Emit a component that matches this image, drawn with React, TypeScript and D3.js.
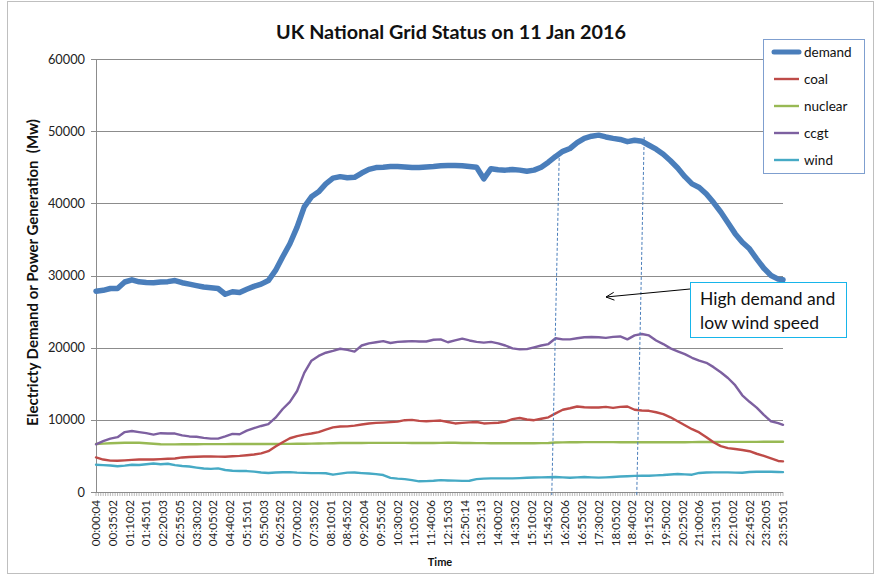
import React, { useEffect, useRef } from 'react';
import * as d3 from 'd3';

// tick labels on the category axis (every 7th 5-minute reading)
const timeLabels = [
  '00:00:04', '00:35:02', '01:10:02', '01:45:01', '02:20:03', '02:55:05', '03:30:02',
  '04:05:02', '04:40:02', '05:15:01', '05:50:03', '06:25:02', '07:00:02', '07:35:02',
  '08:10:01', '08:45:02', '09:20:04', '09:55:02', '10:30:02', '11:05:02', '11:40:06',
  '12:15:03', '12:50:14', '13:25:13', '14:00:02', '14:35:02', '15:10:02', '15:45:02',
  '16:20:06', '16:55:02', '17:30:02', '18:05:02', '18:40:02', '19:15:02', '19:50:02',
  '20:25:02', '21:00:06', '21:35:01', '22:10:02', '22:45:02', '23:20:05', '23:55:01',
];

// readings every 15 min (last one is 23:55), MW
const demand = [
  27830, 27950, 28200, 28200, 29100, 29400, 29120, 29030, 29000, 29100,
  29150, 29300, 29000, 28800, 28600, 28400, 28300, 28200, 27400, 27750,
  27650, 28100, 28500, 28800, 29300, 30700, 32600, 34400, 36700, 39500,
  40900, 41600, 42700, 43500, 43700, 43550, 43600, 44200, 44700, 44950,
  45000, 45100, 45100, 45050, 44950, 44950, 45050, 45100, 45200, 45250,
  45250, 45200, 45100, 45000, 43400, 44800, 44650, 44600, 44700, 44600,
  44450, 44600, 45000, 45700, 46500, 47200, 47600, 48400, 49000, 49300,
  49450, 49200, 49000, 48850, 48550, 48750, 48600, 48050, 47500, 46800,
  45900, 44900, 43700, 42700, 42200, 41300, 40100, 38800, 37300, 35800,
  34600, 33700, 32300, 31000, 30000, 29500, 29400,
];
const coal = [
  4800, 4500, 4350, 4330, 4380, 4450, 4500, 4500, 4510, 4550,
  4600, 4650, 4790, 4850, 4880, 4920, 4930, 4900, 4880, 4950,
  5000, 5100, 5200, 5350, 5650, 6300, 6900, 7450, 7750, 7950,
  8100, 8300, 8650, 8950, 9080, 9100, 9200, 9350, 9500, 9580,
  9620, 9680, 9750, 9950, 10000, 9850, 9800, 9860, 9900, 9700,
  9500, 9580, 9650, 9700, 9500, 9550, 9600, 9750, 10100, 10250,
  10050, 9950, 10150, 10350, 10900, 11400, 11600, 11850, 11750, 11700,
  11700, 11800, 11650, 11800, 11850, 11400, 11300, 11250, 11050, 10800,
  10350, 9800, 9250, 8700, 8250, 7600, 6900, 6350, 6080, 5950,
  5820, 5650, 5300, 5000, 4650, 4300, 4240,
];
const nuclear = [
  6650, 6700, 6750, 6800, 6820, 6840, 6820, 6760, 6680, 6620,
  6600, 6600, 6610, 6620, 6620, 6630, 6630, 6640, 6640, 6650,
  6650, 6650, 6660, 6660, 6660, 6660, 6670, 6670, 6680, 6690,
  6700, 6720, 6740, 6760, 6780, 6790, 6800, 6800, 6810, 6810,
  6810, 6810, 6810, 6810, 6800, 6800, 6800, 6800, 6810, 6820,
  6820, 6800, 6780, 6770, 6770, 6760, 6760, 6750, 6750, 6750,
  6750, 6760, 6770, 6780, 6850, 6880, 6900, 6900, 6910, 6910,
  6910, 6910, 6910, 6900, 6900, 6900, 6900, 6900, 6900, 6900,
  6900, 6900, 6900, 6910, 6920, 6930, 6930, 6940, 6940, 6950,
  6950, 6950, 6950, 6960, 6960, 6960, 6960,
];
const ccgt = [
  6600, 7050, 7400, 7600, 8300, 8450, 8300, 8150, 7950, 8150,
  8100, 8100, 7850, 7700, 7650, 7500, 7400, 7400, 7700, 8050,
  8000, 8500, 8850, 9150, 9400, 10300, 11500, 12500, 14000, 16500,
  18200, 18850, 19300, 19550, 19850, 19700, 19450, 20300, 20600, 20750,
  20900, 20650, 20800, 20850, 20900, 20850, 20850, 21100, 21150, 20750,
  21000, 21250, 21000, 20800, 20700, 20800, 20600, 20300, 19900, 19770,
  19800, 20050, 20300, 20500, 21300, 21150, 21150, 21300, 21450, 21480,
  21450, 21350, 21500, 21550, 21150, 21700, 21900, 21700, 21000, 20500,
  19900, 19500, 19100, 18600, 18200, 17900, 17300, 16600, 15800, 14800,
  13400, 12500, 11700, 10700, 9800, 9550, 9300,
];
const wind = [
  3780, 3720, 3680, 3560, 3650, 3780, 3740, 3850, 3940, 3840,
  3910, 3720, 3600, 3530, 3380, 3250, 3200, 3270, 3050, 2950,
  2900, 2900, 2820, 2700, 2630, 2700, 2740, 2750, 2680, 2650,
  2620, 2620, 2600, 2400, 2550, 2680, 2700, 2620, 2560, 2480,
  2350, 1950, 1850, 1790, 1650, 1480, 1500, 1560, 1650, 1600,
  1570, 1540, 1560, 1780, 1850, 1890, 1890, 1890, 1890, 1920,
  1970, 2000, 2020, 2040, 2070, 2030, 1980, 2030, 2070, 2020,
  1990, 2030, 2080, 2140, 2180, 2230, 2250, 2250, 2300, 2350,
  2430, 2490, 2440, 2400, 2640, 2700, 2720, 2720, 2720, 2690,
  2670, 2770, 2810, 2810, 2800, 2770, 2760,
];

const seriesNames = ['demand', 'coal', 'nuclear', 'ccgt', 'wind'];
const seriesValues = [demand, coal, nuclear, ccgt, wind];
const seriesColors = ['#4A7EBB', '#BE4B48', '#98B954', '#7D60A0', '#46AAC5'];
const yTicks = [0, 10000, 20000, 30000, 40000, 50000, 60000];

// dashed guide lines: [slot, MW] top and bottom
const guides = [
  [[193.5, 46300], [190.4, 0]],
  [[229, 49200], [225.9, 0]],
];

const SLOTS = 288; // 5-minute readings in the day
const FONT = 'Lato, "Open Sans", sans-serif';

const App = () => {
  const ref = useRef(null);

  useEffect(() => {
    const W = 881, H = 579;
    const left = 96, right = 783, top = 59, bottom = 492;

    const svg = d3.select(ref.current);
    svg.selectAll('*').remove();

    const x = d3.scaleLinear().domain([0, SLOTS - 1]).range([left, right]);
    const y = d3.scaleLinear().domain([0, 60000]).range([bottom, top]);
    const slotOf = (i, n) => (i === n - 1 ? SLOTS - 1 : i * 3);

    svg.append('rect')
      .attr('x', 0).attr('y', 0).attr('width', W).attr('height', H)
      .attr('fill', '#fff');
    svg.append('rect')
      .attr('x', 7.5).attr('y', 1.5).attr('width', 866).attr('height', 572)
      .attr('fill', 'none').attr('stroke', '#BFBFBF');

    // grid
    svg.append('g').selectAll('line').data(yTicks.slice(1)).enter().append('line')
      .attr('x1', left).attr('x2', right)
      .attr('y1', d => Math.round(y(d)) + 0.5).attr('y2', d => Math.round(y(d)) + 0.5)
      .attr('stroke', '#8C8C8C').attr('stroke-width', 1);

    // y axis
    const ya = svg.append('g');
    ya.append('line').attr('x1', left + 0.5).attr('x2', left + 0.5).attr('y1', top).attr('y2', bottom)
      .attr('stroke', '#8C8C8C');
    ya.selectAll('line.t').data(yTicks).enter().append('line')
      .attr('class', 't')
      .attr('x1', left - 5).attr('x2', left)
      .attr('y1', d => Math.round(y(d)) + 0.5).attr('y2', d => Math.round(y(d)) + 0.5)
      .attr('stroke', '#8C8C8C');
    ya.selectAll('text').data(yTicks).enter().append('text')
      .attr('x', left - 11).attr('y', d => y(d)).attr('dy', '0.36em')
      .attr('text-anchor', 'end')
      .attr('font-family', FONT).attr('font-size', 12.8).attr('fill', '#222')
      .text(d => d);

    // x axis
    const xa = svg.append('g');
    xa.append('line').attr('x1', left).attr('x2', right).attr('y1', bottom + 0.5).attr('y2', bottom + 0.5)
      .attr('stroke', '#8C8C8C');
    xa.selectAll('line.t').data(d3.range(SLOTS)).enter().append('line')
      .attr('class', 't')
      .attr('x1', d => x(d)).attr('x2', d => x(d))
      .attr('y1', bottom).attr('y2', bottom + 4)
      .attr('stroke', '#8C8C8C').attr('stroke-width', 0.6);
    xa.selectAll('text').data(timeLabels).enter().append('text')
      .attr('transform', (d, i) => `translate(${x(i * 7)},${bottom + 8}) rotate(-90)`)
      .attr('dy', '0.35em')
      .attr('text-anchor', 'end')
      .attr('font-family', FONT).attr('font-size', 11.6).attr('fill', '#222')
      .text(d => d);

    // series
    const line = d3.line()
      .x(d => x(d[0]))
      .y(d => y(d[1]));
    [4, 2, 1, 3, 0].forEach(si => {
      const vals = seriesValues[si];
      const pts = vals.map((v, i) => [slotOf(i, vals.length), v]);
      svg.append('path')
        .attr('d', line(pts))
        .attr('fill', 'none')
        .attr('stroke', seriesColors[si])
        .attr('stroke-width', si === 0 ? 5.5 : 2.4)
        .attr('stroke-linejoin', 'round')
        .attr('stroke-linecap', 'round');
    });

    // dashed guides
    svg.append('g').selectAll('line').data(guides).enter().append('line')
      .attr('x1', d => x(d[0][0])).attr('y1', d => y(d[0][1]))
      .attr('x2', d => x(d[1][0])).attr('y2', d => y(d[1][1]) + 3)
      .attr('stroke', '#4A7EBB').attr('stroke-width', 1)
      .attr('stroke-dasharray', '3,2');

    // callout
    const box = svg.append('g');
    box.append('rect')
      .attr('x', 690.5).attr('y', 282.5).attr('width', 156).attr('height', 55)
      .attr('fill', '#fff').attr('stroke', '#17B5EA').attr('stroke-width', 1);
    box.append('text')
      .attr('x', 700).attr('y', 305)
      .attr('font-family', FONT).attr('font-size', 17.5).attr('fill', '#111')
      .text('High demand and');
    box.append('text')
      .attr('x', 700).attr('y', 329)
      .attr('font-family', FONT).attr('font-size', 17.5).attr('fill', '#111')
      .text('low wind speed');
    const ax0 = 690, ay0 = 289, ax1 = 606, ay1 = 297;
    svg.append('line')
      .attr('x1', ax0).attr('y1', ay0).attr('x2', ax1).attr('y2', ay1)
      .attr('stroke', '#000').attr('stroke-width', 1);
    const ang = Math.atan2(ay0 - ay1, ax0 - ax1);
    const head = [ang + 0.45, ang - 0.45].map(a => [ax1 + 9 * Math.cos(a), ay1 + 9 * Math.sin(a)]);
    svg.append('path')
      .attr('d', `M${head[0][0]},${head[0][1]}L${ax1},${ay1}L${head[1][0]},${head[1][1]}`)
      .attr('fill', 'none').attr('stroke', '#000').attr('stroke-width', 1);

    // legend
    const lg = svg.append('g');
    lg.append('rect')
      .attr('x', 763.5).attr('y', 39.5).attr('width', 101).attr('height', 134)
      .attr('fill', '#fff').attr('stroke', '#7F9FCF');
    seriesNames.forEach((name, i) => {
      const ly = 52 + i * 27;
      lg.append('line')
        .attr('x1', 774).attr('x2', 799).attr('y1', ly).attr('y2', ly)
        .attr('stroke', seriesColors[i])
        .attr('stroke-width', i === 0 ? 5 : 2.4)
        .attr('stroke-linecap', i === 0 ? 'round' : 'butt');
      lg.append('text')
        .attr('x', 804).attr('y', ly).attr('dy', '0.35em')
        .attr('font-family', FONT).attr('font-size', 13.5).attr('fill', '#111')
        .text(name);
    });

    // titles
    svg.append('text')
      .attr('x', 451).attr('y', 39)
      .attr('text-anchor', 'middle')
      .attr('font-family', FONT).attr('font-size', 19.8).attr('font-weight', 'bold')
      .attr('fill', '#111')
      .text('UK National Grid Status on 11 Jan 2016');
    svg.append('text')
      .attr('transform', `translate(38,${(top + bottom) / 2 - 3}) rotate(-90)`)
      .attr('text-anchor', 'middle')
      .attr('font-family', FONT).attr('font-size', 15).attr('font-weight', 'bold')
      .attr('fill', '#111')
      .attr('xml:space', 'preserve')
      .text('Electricty Demand or Power Generation  (Mw)');
    svg.append('text')
      .attr('x', 440).attr('y', 566)
      .attr('text-anchor', 'middle')
      .attr('font-family', FONT).attr('font-size', 11).attr('font-weight', 'bold')
      .attr('fill', '#111')
      .text('Time');
  }, []);

  return (
    <svg
      ref={ref}
      width={881}
      height={579}
      style={{ position: 'absolute', left: 0, top: 0 }}
    />
  );
};

export default App;
